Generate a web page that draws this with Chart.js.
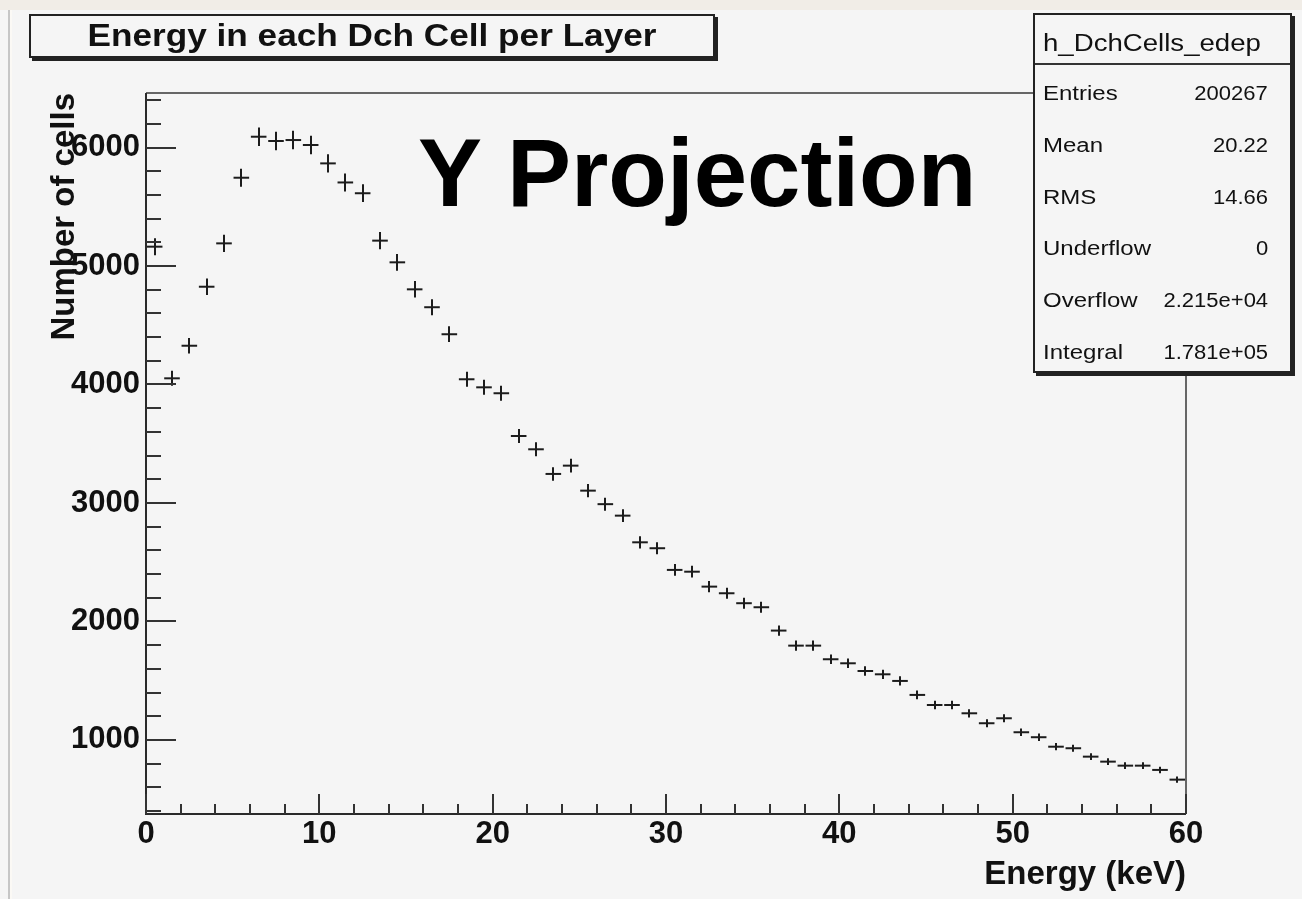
<!DOCTYPE html>
<html>
<head>
<meta charset="utf-8">
<script src="https://cdn.jsdelivr.net/npm/chart.js"></script>
<style>
  html, body { margin: 0; padding: 0; background: #f5f5f5; overflow: hidden; }
  body { width: 1302px; height: 899px; position: relative; font-family: "Liberation Sans", Arial, Helvetica, sans-serif; }
  #c { position: absolute; left: 0; top: 0; }
  .strip { position: absolute; left: 0; top: 0; width: 1302px; height: 10px; background: #f1ede7; }
  .lb1 { position: absolute; left: 8px; top: 10px; width: 2px; height: 889px; background: #c6c6c6; }
  .lb2 { position: absolute; left: 10px; top: 10px; width: 2px; height: 889px; background: #fbf9f5; }
  .titlebox { position: absolute; left: 29px; top: 14px; width: 682px; height: 40px; border: 2px solid #222; background: #f5f5f5; box-shadow: 3px 3px 0 #222; color: #111; }
  .titlebox span { position: absolute; left: 50%; top: 0; line-height: 40px; font-weight: bold; font-size: 31px; white-space: nowrap; transform: translateX(-50%) scaleX(1.135); }
  .stats { position: absolute; left: 1033px; top: 13px; width: 255px; height: 356px; border: 2px solid #222; background: #f5f5f5; box-shadow: 3px 3px 0 #222; color: #111; }
  .stats .hdr { position: absolute; left: 8px; top: 13px; height: 30px; line-height: 30px; font-size: 23px; white-space: nowrap; transform-origin: 0 50%; transform: scaleX(1.2); }
  .stats .sep { position: absolute; left: 0; top: 48px; width: 255px; height: 2px; background: #333; }
  .stats .row { position: absolute; left: 8px; right: 22px; height: 30px; line-height: 30px; font-size: 20px; white-space: nowrap; }
  .stats .row span.l { position: absolute; left: 0; top: 0; transform-origin: 0 50%; transform: scaleX(1.2); }
  .stats .row span.v { position: absolute; right: 0; top: 0; transform-origin: 100% 50%; transform: scaleX(1.1); }
  .proj { position: absolute; left: 418px; top: 125px; font-weight: bold; font-size: 96px; line-height: 96px; color: #000; white-space: nowrap; }
</style>
</head>
<body>
<div class="strip"></div>
<div class="lb1"></div>
<div class="lb2"></div>
<canvas id="c" width="1302" height="899"></canvas>
<div class="titlebox"><span id="titletext"></span></div>
<div class="proj" id="proj"></div>
<div class="stats" id="stats"></div>
<script>
// ---- data (60 bins of 1 keV, 0..60 keV) ----
const histTitle = "Energy in each Dch Cell per Layer";
const histName = "h_DchCells_edep";
const overlayText = "Y Projection";
const xAxisTitle = "Energy (keV)";
const yAxisTitle = "Number of cells";
const binLow = 0;
const binWidth = 1;
const counts = [
  5163, 4052, 4327, 4825, 5191, 5745, 6091, 6055, 6063, 6021,
  5866, 5705, 5614, 5214, 5031, 4803, 4652, 4424, 4044, 3976,
  3926, 3565, 3453, 3245, 3315, 3104, 2990, 2893, 2668, 2618,
  2435, 2420, 2294, 2238, 2154, 2120, 1923, 1796, 1796, 1681,
  1647, 1582, 1554, 1498, 1380, 1295, 1295, 1225, 1141, 1183,
  1065, 1023, 943, 930, 859, 817, 783, 783, 747, 665
];
const xTicks = [0, 10, 20, 30, 40, 50, 60];
const yTicks = [1000, 2000, 3000, 4000, 5000, 6000];
const statLabels = ["Entries", "Mean", "RMS", "Underflow", "Overflow", "Integral"];
const statValues = ["200267", "20.22", "14.66", "0", "2.215e+04", "1.781e+05"];

// ---- overlays (text) ----
document.getElementById('titletext').textContent = histTitle;
document.getElementById('proj').textContent = overlayText;
(function buildStats() {
  const box = document.getElementById('stats');
  const h = document.createElement('div'); h.className = 'hdr'; h.textContent = histName; box.appendChild(h);
  const s = document.createElement('div'); s.className = 'sep'; box.appendChild(s);
  const rowCenters = [78.3, 130, 181.7, 233.3, 285, 336.7];
  statLabels.forEach((lab, i) => {
    const r = document.createElement('div'); r.className = 'row';
    r.style.top = (rowCenters[i] - 15) + 'px';
    const l = document.createElement('span'); l.className = 'l'; l.textContent = lab; r.appendChild(l);
    const v = document.createElement('span'); v.className = 'v'; v.textContent = statValues[i]; r.appendChild(v);
    box.appendChild(r);
  });
})();

const centers = counts.map((c, i) => binLow + (i + 0.5) * binWidth);
const points = counts.map((c, i) => ({ x: centers[i], y: c }));

Chart.defaults.font.family = '"Liberation Sans", Arial, Helvetica, sans-serif';
Chart.defaults.color = '#111';

const rootFrame = {
  id: 'rootFrame',
  afterDatasetsDraw(chart) {
    const { ctx, chartArea: a, scales: { x, y } } = chart;
    ctx.save();
    // vertical error bars sqrt(N)
    ctx.strokeStyle = '#1c1c1c';
    ctx.lineWidth = 2;
    ctx.beginPath();
    points.forEach(p => {
      const e = Math.sqrt(p.y);
      const px = Math.round(x.getPixelForValue(p.x));
      ctx.moveTo(px, y.getPixelForValue(p.y - e));
      ctx.lineTo(px, y.getPixelForValue(p.y + e));
    });
    ctx.stroke();
    // frame
    ctx.strokeStyle = '#666';
    ctx.lineWidth = 2;
    ctx.beginPath();
    ctx.moveTo(a.left, a.top); ctx.lineTo(a.right, a.top); ctx.lineTo(a.right, a.bottom);
    ctx.stroke();
    ctx.strokeStyle = '#2a2a2a';
    ctx.beginPath();
    ctx.moveTo(a.left, a.top); ctx.lineTo(a.left, a.bottom); ctx.lineTo(a.right, a.bottom);
    ctx.stroke();
    // y ticks (inside), major every 1000, minor every 200
    ctx.lineWidth = 2;
    ctx.strokeStyle = '#333';
    ctx.beginPath();
    for (let v = 200; v <= y.max; v += 200) {
      if (v < y.min) continue;
      const py = Math.round(y.getPixelForValue(v));
      const len = (v % 1000 === 0) ? 30 : 15;
      ctx.moveTo(a.left, py); ctx.lineTo(a.left + len, py);
    }
    // x ticks (inside), major every 10, minor every 2
    for (let v = x.min; v <= x.max; v += 2) {
      const px = Math.round(x.getPixelForValue(v));
      const len = (v % 10 === 0) ? 20 : 10;
      ctx.moveTo(px, a.bottom); ctx.lineTo(px, a.bottom - len);
    }
    ctx.stroke();
    ctx.restore();
  }
};

new Chart(document.getElementById('c'), {
  type: 'scatter',
  data: {
    datasets: [{
      label: histName,
      data: points,
      showLine: false,
      pointStyle: 'line',
      pointRadius: 7.8,
      pointHoverRadius: 7.8,
      pointBorderWidth: 2,
      pointBorderColor: '#1c1c1c',
      pointBackgroundColor: '#1c1c1c'
    }]
  },
  options: {
    responsive: false,
    animation: false,
    events: [],
    layout: { padding: { left: 41, top: 93, right: 116, bottom: 0 } },
    plugins: { legend: { display: false }, tooltip: { enabled: false }, title: { display: false } },
    scales: {
      x: {
        type: 'linear', min: 0, max: 60,
        grid: { display: false, drawTicks: false },
        border: { display: false },
        afterBuildTicks: (s) => { s.ticks = xTicks.map(v => ({ value: v })); },
        afterFit: (s) => { s.height = 85; },
        ticks: { padding: 2, maxRotation: 0, autoSkip: false, callback: (v) => String(v), font: { size: 31, weight: 'bold' }, color: '#111' },
        title: { display: true, text: xAxisTitle, align: 'end', font: { size: 33, weight: 'bold' }, color: '#111', padding: { top: 0, bottom: 4 } }
      },
      y: {
        type: 'linear', min: 375, max: 6460,
        grid: { display: false, drawTicks: false },
        border: { display: false },
        afterBuildTicks: (s) => { s.ticks = yTicks.map(v => ({ value: v })); },
        afterFit: (s) => { s.width = 105; },
        ticks: { padding: 6, autoSkip: false, callback: (v) => String(v), font: { size: 31, weight: 'bold' }, color: '#111' },
        title: { display: true, text: yAxisTitle, align: 'end', font: { size: 33, weight: 'bold' }, color: '#111', padding: { top: 4, bottom: 0 } }
      }
    }
  },
  plugins: [rootFrame]
});
</script>
</body>
</html>
